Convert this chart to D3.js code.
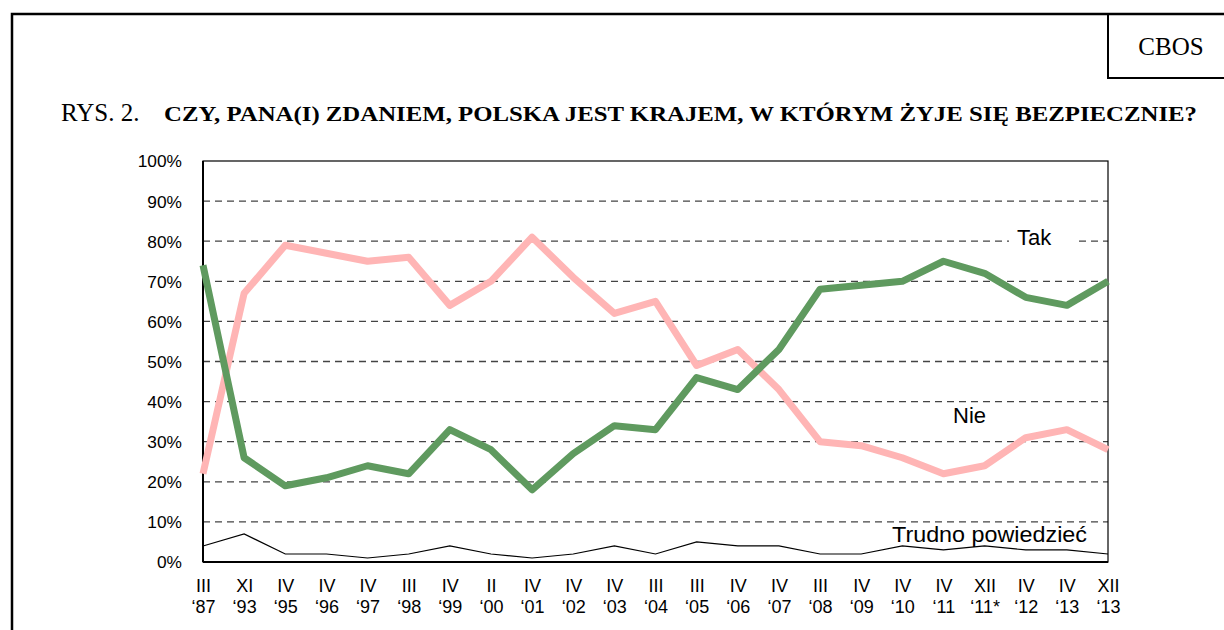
<!DOCTYPE html>
<html>
<head>
<meta charset="utf-8">
<script src="https://cdn.jsdelivr.net/npm/d3@7/dist/d3.min.js"></script>
<style>
  body { margin: 0; background: #fff; }
  svg { display: block; }
  .tick text { font-family: "Liberation Sans", Arial, sans-serif; fill: #000; }
  .lbl { font-family: "Liberation Sans", Arial, sans-serif; font-size: 22px; fill: #000; }
  .serif { font-family: "Liberation Serif", "Times New Roman", serif; fill: #000; }
</style>
</head>
<body>
<svg id="chart" width="1224" height="630"></svg>
<script>
// survey waves (month, year)
const months = ["III", "XI", "IV", "IV", "IV", "III", "IV", "II", "IV", "IV", "IV", "III",
                "III", "IV", "IV", "III", "IV", "IV", "IV", "XII", "IV", "IV", "XII"];
const years = ["‘87", "‘93", "‘95", "‘96", "‘97", "‘98", "‘99", "‘00", "‘01", "‘02", "‘03", "‘04",
               "‘05", "‘06", "‘07", "‘08", "‘09", "‘10", "‘11", "‘11*", "‘12", "‘13", "‘13"];
const tak = [74, 26, 19, 21, 24, 22, 33, 28, 18, 27, 34, 33, 46, 43, 53, 68, 69, 70, 75, 72, 66, 64, 70];
const nie = [22, 67, 79, 77, 75, 76, 64, 70, 81, 71, 62, 65, 49, 53, 43, 30, 29, 26, 22, 24, 31, 33, 28];
const trudno = [4, 7, 2, 2, 1, 2, 4, 2, 1, 2, 4, 2, 5, 4, 4, 2, 2, 4, 3, 4, 3, 3, 2];
const yTicks = [0, 10, 20, 30, 40, 50, 60, 70, 80, 90, 100];

const svg = d3.select("#chart");
const plotLeft = 203, plotRight = 1108, plotTop = 161, plotBottom = 562;

const idx = d3.range(months.length);
const x = d3.scalePoint().domain(idx).range([plotLeft, plotRight]);
const y = d3.scaleLinear().domain([0, 100]).range([plotBottom, plotTop]);

// outer frame (left + top) and CBOS box
svg.append("path")
  .attr("d", "M12,630V14H1224")
  .attr("fill", "none").attr("stroke", "#000").attr("stroke-width", 2.5);
svg.append("path")
  .attr("d", "M1108,14V78H1224")
  .attr("fill", "none").attr("stroke", "#000").attr("stroke-width", 2);
svg.append("text").attr("class", "serif")
  .attr("x", 1171).attr("y", 55)
  .attr("text-anchor", "middle")
  .style("font-size", "25px")
  .text("CBOS");

// title
svg.append("text").attr("class", "serif")
  .attr("x", 61).attr("y", 121)
  .style("font-size", "25px")
  .text("RYS. 2.");
svg.append("text").attr("class", "serif")
  .attr("x", 164).attr("y", 121)
  .style("font-size", "21px").style("font-weight", "bold")
  .attr("textLength", 1033).attr("lengthAdjust", "spacingAndGlyphs")
  .text("CZY, PANA(I) ZDANIEM, POLSKA JEST KRAJEM, W KTÓRYM ŻYJE SIĘ BEZPIECZNIE?");

// dashed grid
svg.append("g")
  .selectAll("line")
  .data(yTicks.filter(d => d > 0 && d < 100))
  .join("line")
  .attr("x1", plotLeft).attr("x2", plotRight)
  .attr("y1", d => y(d)).attr("y2", d => y(d))
  .attr("stroke", "#444").attr("stroke-width", 1.3)
  .attr("stroke-dasharray", "7,5");

// plot border
svg.append("rect")
  .attr("x", plotLeft).attr("y", plotTop)
  .attr("width", plotRight - plotLeft).attr("height", plotBottom - plotTop)
  .attr("fill", "none").attr("stroke", "#000").attr("stroke-width", 1.2);
svg.append("line")
  .attr("x1", plotLeft).attr("x2", plotLeft).attr("y1", plotTop).attr("y2", plotBottom)
  .attr("stroke", "#000").attr("stroke-width", 2);
svg.append("line")
  .attr("x1", plotLeft).attr("x2", plotRight).attr("y1", plotBottom).attr("y2", plotBottom)
  .attr("stroke", "#000").attr("stroke-width", 2);

// y axis labels
const yAxis = svg.append("g")
  .attr("transform", `translate(${plotLeft},0)`)
  .call(d3.axisLeft(y).tickValues(yTicks).tickSize(0).tickPadding(21).tickFormat(d => d + "%"));
yAxis.select(".domain").remove();
yAxis.selectAll("text")
  .style("font-size", "16.5px").attr("dy", "0.36em")
  .attr("x", 0)
  .attr("transform", "translate(-21,0) scale(1.05,1)");

// x axis labels, two lines
const xAxis = svg.append("g")
  .attr("transform", `translate(0,${plotBottom})`)
  .call(d3.axisBottom(x).tickSize(0).tickFormat(""));
xAxis.select(".domain").remove();
xAxis.selectAll(".tick text")
  .style("font-size", "18px")
  .attr("y", 0).attr("dy", null)
  .each(function (d) {
    const t = d3.select(this);
    t.append("tspan").attr("x", 0).attr("y", 30).text(months[d]);
    t.append("tspan").attr("x", 0).attr("y", 51).text(years[d]);
  });

// series
const line = d3.line().x((d, i) => x(i)).y(d => y(d));
svg.append("path").datum(trudno)
  .attr("d", line).attr("fill", "none")
  .attr("stroke", "#000").attr("stroke-width", 1.2);
svg.append("path").datum(nie)
  .attr("d", line).attr("fill", "none")
  .attr("stroke", "#ffb5b5").attr("stroke-width", 7).attr("stroke-linejoin", "round");
svg.append("path").datum(tak)
  .attr("d", line).attr("fill", "none")
  .attr("stroke", "#5f9a5f").attr("stroke-width", 7).attr("stroke-linejoin", "round");

// series labels
svg.append("rect")
  .attr("x", 1009).attr("y", 226).attr("width", 70).attr("height", 24).attr("fill", "#fff");
svg.append("text").attr("class", "lbl").attr("x", 1017).attr("y", 245).text("Tak");
svg.append("text").attr("class", "lbl").attr("x", 953).attr("y", 423).text("Nie");
svg.append("text").attr("class", "lbl").attr("x", 892).attr("y", 542)
  .attr("textLength", 195).attr("lengthAdjust", "spacingAndGlyphs")
  .text("Trudno powiedzieć");
</script>
</body>
</html>
